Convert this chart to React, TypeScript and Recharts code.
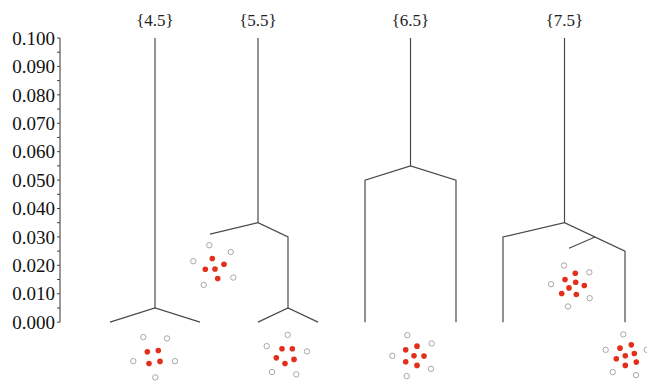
import React from "react"
import {
    ComposedChart,
    Line,
    Scatter,
    XAxis,
    YAxis,
    ReferenceLine
} from "recharts"

// top labels, placed over each tree's trunk
const treeLabels = ["{4.5}", "{5.5}", "{6.5}", "{7.5}"]
const trunkX = [9.5, 19.8, 35.05, 50.45]

const yTicks = [
    0, 0.005, 0.01, 0.015, 0.02, 0.025, 0.03, 0.035, 0.04, 0.045, 0.05,
    0.055, 0.06, 0.065, 0.07, 0.075, 0.08, 0.085, 0.09, 0.095, 0.1
]

type Pt = { x: number; y: number }

// dendrogram paths, one list of polylines per tree
const tree45: Pt[][] = [
    [{ x: 9.5, y: 0.1 }, { x: 9.5, y: 0.005 }],
    [{ x: 5.0, y: 0 }, { x: 9.5, y: 0.005 }, { x: 14.0, y: 0 }]
]
const tree55: Pt[][] = [
    [{ x: 19.8, y: 0.1 }, { x: 19.8, y: 0.035 }],
    [{ x: 15.0, y: 0.031 }, { x: 19.8, y: 0.035 }, { x: 22.8, y: 0.030 }, { x: 22.8, y: 0.005 }],
    [{ x: 19.8, y: 0 }, { x: 22.8, y: 0.005 }, { x: 25.8, y: 0 }]
]
const tree65: Pt[][] = [
    [{ x: 35.05, y: 0.1 }, { x: 35.05, y: 0.055 }],
    [{ x: 30.5, y: 0 }, { x: 30.5, y: 0.05 }, { x: 35.05, y: 0.055 }, { x: 39.6, y: 0.05 }, { x: 39.6, y: 0 }]
]
const tree75: Pt[][] = [
    [{ x: 50.45, y: 0.1 }, { x: 50.45, y: 0.035 }],
    [{ x: 44.3, y: 0 }, { x: 44.3, y: 0.03 }, { x: 50.45, y: 0.035 }, { x: 56.5, y: 0.025 }, { x: 56.5, y: 0 }],
    [{ x: 53.5, y: 0.02996 }, { x: 50.9, y: 0.026 }]
]

// point clusters (filled = red, open = hollow grey)
const clusterA_red: Pt[] = [
    { x: 8.73, y: -0.01044 }, { x: 9.83, y: -0.00995 }, { x: 8.9, y: -0.01452 }, { x: 10.0, y: -0.01381 }
]
const clusterA_open: Pt[] = [
    { x: 8.33, y: -0.00527 }, { x: 10.7, y: -0.00573 }, { x: 7.33, y: -0.01371 }, { x: 11.5, y: -0.01371 }, { x: 9.53, y: -0.01944 }
]
const clusterB_red: Pt[] = [
    { x: 15.23, y: 0.02239 }, { x: 16.4, y: 0.02039 }, { x: 14.53, y: 0.01863 }, { x: 15.5, y: 0.01873 }, { x: 15.77, y: 0.01536 }
]
const clusterB_open: Pt[] = [
    { x: 14.93, y: 0.02707 }, { x: 17.07, y: 0.02471 }, { x: 13.33, y: 0.02144 }, { x: 17.33, y: 0.01571 }, { x: 14.37, y: 0.01311 }
]
const clusterC_red: Pt[] = [
    { x: 22.2, y: -0.00938 }, { x: 23.23, y: -0.00938 }, { x: 21.63, y: -0.01255 }, { x: 23.4, y: -0.01311 }, { x: 22.5, y: -0.01452 }
]
const clusterC_open: Pt[] = [
    { x: 22.77, y: -0.00446 }, { x: 20.67, y: -0.00844 }, { x: 24.7, y: -0.0103 }, { x: 21.2, y: -0.01757 }, { x: 23.63, y: -0.01838 }
]
const clusterD_red: Pt[] = [
    { x: 35.7, y: -0.00844 }, { x: 34.57, y: -0.00974 }, { x: 35.4, y: -0.01185 }, { x: 36.4, y: -0.01195 },
    { x: 34.57, y: -0.01395 }, { x: 35.7, y: -0.01522 }
]
const clusterD_open: Pt[] = [
    { x: 34.73, y: -0.00457 }, { x: 37.17, y: -0.00749 }, { x: 33.23, y: -0.01185 }, { x: 37.1, y: -0.01641 }, { x: 34.67, y: -0.01898 }
]
const clusterE_red: Pt[] = [
    { x: 51.53, y: 0.01722 }, { x: 50.5, y: 0.01501 }, { x: 51.57, y: 0.01406 }, { x: 52.43, y: 0.0129 },
    { x: 50.9, y: 0.01206 }, { x: 50.17, y: 0.01009 }, { x: 51.63, y: 0.00974 }
]
const clusterE_open: Pt[] = [
    { x: 50.4, y: 0.01993 }, { x: 52.93, y: 0.01757 }, { x: 49.1, y: 0.01336 }, { x: 52.97, y: 0.00844 }, { x: 50.8, y: 0.00552 }
]
const clusterF_red: Pt[] = [
    { x: 56.0, y: -0.00914 }, { x: 57.13, y: -0.00798 }, { x: 56.53, y: -0.01185 }, { x: 57.43, y: -0.011 },
    { x: 55.63, y: -0.0129 }, { x: 57.63, y: -0.01406 }, { x: 56.53, y: -0.01522 }
]
const clusterF_open: Pt[] = [
    { x: 56.33, y: -0.00432 }, { x: 54.57, y: -0.00974 }, { x: 58.67, y: -0.00974 }, { x: 55.27, y: -0.01757 }, { x: 57.6, y: -0.01863 }
]

const redClusters = [clusterA_red, clusterB_red, clusterC_red, clusterD_red, clusterE_red, clusterF_red]
const openClusters = [clusterA_open, clusterB_open, clusterC_open, clusterD_open, clusterE_open, clusterF_open]
const trees = [tree45, tree55, tree65, tree75]

const serif = "Liberation Serif"

const redDot = (p: any) => <circle cx={p.cx} cy={p.cy} r={2.8} fill="#e2301c" />
const openDot = (p: any) => (
    <circle cx={p.cx} cy={p.cy} r={2.7} fill="#fff" stroke="#a8a8a8" strokeWidth={1} />
)

export default function App() {
    return (
        <div style={{ position: "absolute", left: 0, top: 0, fontFamily: serif }}>
            <ComposedChart
                width={647}
                height={384}
                margin={{ top: 0, right: 0, bottom: 5, left: 0 }}
                style={{ fontFamily: serif }}
            >
                <XAxis
                    dataKey="x"
                    type="number"
                    orientation="top"
                    domain={[0, 58.7]}
                    ticks={trunkX}
                    interval={0}
                    height={38}
                    axisLine={false}
                    tickLine={false}
                    tickSize={0}
                    tickMargin={12}
                    tickFormatter={(v: number) => treeLabels[trunkX.indexOf(v)] ?? ""}
                    tick={{ fontSize: 17, fill: "#222", fontFamily: serif }}
                />
                <YAxis
                    dataKey="y"
                    type="number"
                    domain={[-0.02, 0.1]}
                    ticks={yTicks}
                    interval={0}
                    width={60}
                    axisLine={false}
                    tickSize={3}
                    tickMargin={2}
                    tickLine={{ stroke: "#444" }}
                    tickFormatter={(v: number) => (Math.round(v * 1000) % 10 === 0 ? v.toFixed(3) : "")}
                    tick={{ fontSize: 19, fill: "#111", fontFamily: serif }}
                />
                <ReferenceLine
                    segment={[{ x: 0, y: 0 }, { x: 0, y: 0.1 }]}
                    stroke="#333"
                    strokeWidth={1}
                />

                {trees.map((tree, ti) =>
                    tree.map((path, pi) => (
                        <Line
                            key={`t${ti}-${pi}`}
                            data={path}
                            dataKey="y"
                            type="linear"
                            stroke="#4a4a4a"
                            strokeWidth={1.2}
                            dot={false}
                            activeDot={false}
                            isAnimationActive={false}
                        />
                    ))
                )}

                {openClusters.map((pts, i) => (
                    <Scatter key={`o${i}`} data={pts} shape={openDot} isAnimationActive={false} />
                ))}
                {redClusters.map((pts, i) => (
                    <Scatter key={`r${i}`} data={pts} shape={redDot} isAnimationActive={false} />
                ))}
            </ComposedChart>
        </div>
    )
}
